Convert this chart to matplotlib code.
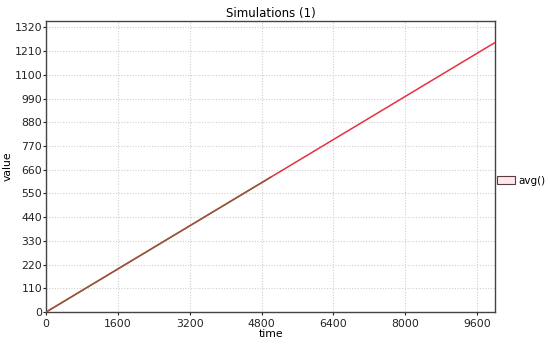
import matplotlib
matplotlib.use("Agg")
import matplotlib.pyplot as plt
from matplotlib.patches import Patch

time = [0, 5000, 10000]
avg = [0, 625, 1250]
x_ticks = [0, 1600, 3200, 4800, 6400, 8000, 9600]
y_ticks = [0, 110, 220, 330, 440, 550, 660, 770, 880, 990, 1100, 1210, 1320]

fig = plt.figure(figsize=(5.5, 3.44), dpi=100)
ax = fig.add_axes([0.084, 0.093, 0.816, 0.846])

ax.plot(time, avg, color="#e8303f", lw=1.1, zorder=3)
ax.plot(time[:2], avg[:2], color="#8b5e3c", lw=1.1, zorder=4)

ax.set_xlim(0, 10000)
ax.set_ylim(0, 1350)
ax.set_xticks(x_ticks)
ax.set_yticks(y_ticks)
ax.tick_params(axis="y", labelsize=7.8, length=2, width=0.8, colors="#222222", pad=1)
ax.tick_params(axis="x", labelsize=7.8, length=2, width=0.8, colors="#222222", pad=3)
ax.grid(True, color="#d0d0d0", linestyle=(0, (1, 1.5)), linewidth=0.8)
for s in ax.spines.values():
    s.set_color("#444444")
    s.set_linewidth(1.0)

ax.set_title("Simulations (1)", fontsize=8.5, pad=3)
ax.set_xlabel("time", fontsize=7.8, labelpad=0)
ax.set_ylabel("value", fontsize=7.8)
ax.yaxis.set_label_coords(-0.075, 0.5)

handle = Patch(facecolor="#fde8ee", edgecolor="#5a3a3a", linewidth=0.8)
fig.legend([handle], ["avg()"], loc="center left", bbox_to_anchor=(0.904, 0.475),
           frameon=False, fontsize=7.5, handlelength=1.7, handleheight=0.9,
           handletextpad=0.35, borderaxespad=0, borderpad=0)

fig.savefig("out.png", dpi=100)
